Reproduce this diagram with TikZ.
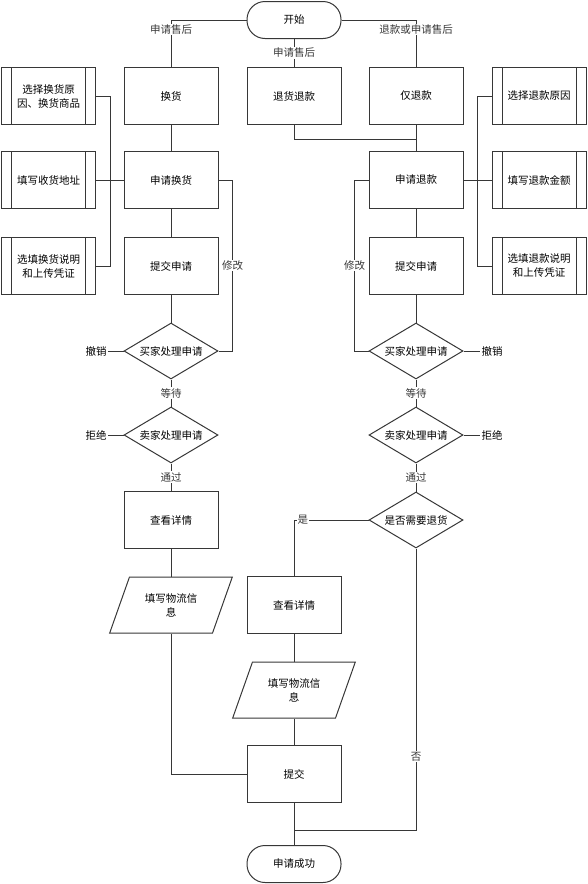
\documentclass[tikz,border=0pt]{standalone}
\usepackage{fontspec}
\setmainfont{Noto Sans CJK SC}
\usepackage{tikz}
\usetikzlibrary{shapes.geometric, positioning, calc}
\definecolor{linegray}{RGB}{55,55,55}

\begin{document}
\begin{tikzpicture}[
    x=1pt, y=-1pt,
    font=\fontsize{10.5}{14}\selectfont,
    proc/.style={rectangle, draw=linegray, line width=1pt, minimum width=94pt, minimum height=57pt, align=center},
    subproc/.style={proc, path picture={
        \draw[linegray, line width=1pt] ([xshift=10pt]path picture bounding box.north west) -- ([xshift=10pt]path picture bounding box.south west);
        \draw[linegray, line width=1pt] ([xshift=-10pt]path picture bounding box.north east) -- ([xshift=-10pt]path picture bounding box.south east);}},
    term/.style={rectangle, rounded corners=18pt, draw=linegray, line width=1pt, minimum width=94pt, minimum height=37pt},
    decision/.style={diamond, aspect=1.7, draw=linegray, line width=1pt, minimum width=94pt, minimum height=56pt, inner sep=0pt},
    io/.style={trapezium, trapezium left angle=63, trapezium right angle=117, trapezium stretches=true, draw=linegray, line width=1pt, minimum width=123pt, minimum height=56pt, align=center, inner sep=1pt},
    lbl/.style={fill=white, inner sep=1pt},
    edge/.style={line width=1pt, linegray}
]
\useasboundingbox (0,0) rectangle (587,884);

\node[term] (start) at (294,20) {开始};
\node[proc] (swap) at (171,96) {换货};
\node[proc] (retref) at (294,96) {退货退款};
\node[proc] (refund) at (416,96) {仅退款};

\node[subproc] (swapwhy) at (48.5,96) {选择换货原\\因、换货商品};
\node[subproc] (swapaddr) at (48.5,180) {填写收货地址};
\node[subproc] (swapnote) at (48.5,266) {选填换货说明\\和上传凭证};
\node[proc] (swapapply) at (171,180) {申请换货};
\node[proc] (swapsubmit) at (171,266) {提交申请};
\node[decision] (swapbuyer) at (171,351) {买家处理申请};
\node[decision] (swapseller) at (171,435) {卖家处理申请};
\node[lbl] (swapcancel) at (96,351) {撤销};
\node[lbl] (swapreject) at (96,435) {拒绝};
\node[proc] (swapdetail) at (171,520) {查看详情};
\node[io] (swapship) at (171,605) {填写物流信\\息};

\node[subproc] (refwhy) at (539,96) {选择退款原因};
\node[subproc] (refamount) at (539,180) {填写退款金额};
\node[subproc] (refnote) at (539,266) {选填退款说明\\和上传凭证};
\node[proc] (refapply) at (416,180) {申请退款};
\node[proc] (refsubmit) at (416,266) {提交申请};
\node[decision] (refbuyer) at (416,351) {买家处理申请};
\node[decision] (refseller) at (416,435) {卖家处理申请};
\node[lbl] (refcancel) at (492,351) {撤销};
\node[lbl] (refreject) at (492,435) {拒绝};
\node[decision] (needret) at (416,520) {是否需要退货};

\node[proc] (retdetail) at (294,605) {查看详情};
\node[io] (retship) at (294,690) {填写物流信\\息};
\node[proc] (submit) at (294,774) {提交};
\node[term] (done) at (294,864) {申请成功};
\coordinate (merge) at (294,830);

\draw[edge] (start.west) -| node[lbl, pos=0.6] {申请售后} (swap.north);
\draw[edge] (start.south) -- node[lbl] {申请售后} (retref.north);
\draw[edge] (start.east) -| node[lbl, pos=0.6] {退款或申请售后} (refund.north);

\draw[edge] (swap) -- (swapapply);
\draw[edge] (swapapply) -- (swapsubmit);
\draw[edge] (swapsubmit) -- (swapbuyer);
\draw[edge] (swapbuyer) -- node[lbl] {等待} (swapseller);
\draw[edge] (swapseller) -- node[lbl] {通过} (swapdetail);
\draw[edge] (swapdetail) -- (swapship);
\draw[edge] (swapship) |- (submit.west);
\draw[edge] (swapapply.east) -- ++(14,0) |- node[lbl, pos=0.25] {修改} (swapbuyer.east);
\draw[edge] (swapbuyer) -- (swapcancel);
\draw[edge] (swapseller) -- (swapreject);
\draw[edge] (swapwhy.east) -- ++(14,0) |- (swapnote.east);
\draw[edge] (swapaddr) -- (swapapply);

\draw[edge] (refund) -- (refapply);
\draw[edge] (retref.south) -- ++(0,14) -| (refapply.north);
\draw[edge] (refapply) -- (refsubmit);
\draw[edge] (refsubmit) -- (refbuyer);
\draw[edge] (refbuyer) -- node[lbl] {等待} (refseller);
\draw[edge] (refseller) -- node[lbl] {通过} (needret);
\draw[edge] (refapply.west) -- ++(-14,0) |- node[lbl, pos=0.25] {修改} (refbuyer.west);
\draw[edge] (refbuyer) -- (refcancel);
\draw[edge] (refseller) -- (refreject);
\draw[edge] (refwhy.west) -- ++(-14,0) |- (refnote.west);
\draw[edge] (refamount) -- (refapply);
\draw[edge] (needret.west) -| node[lbl, pos=0.44] {是} (retdetail.north);
\draw[edge] (needret.south) |- node[lbl, pos=0.37] {否} (merge);

\draw[edge] (retdetail) -- (retship);
\draw[edge] (retship) -- (submit);
\draw[edge] (submit) -- (done);
\end{tikzpicture}
\end{document}
